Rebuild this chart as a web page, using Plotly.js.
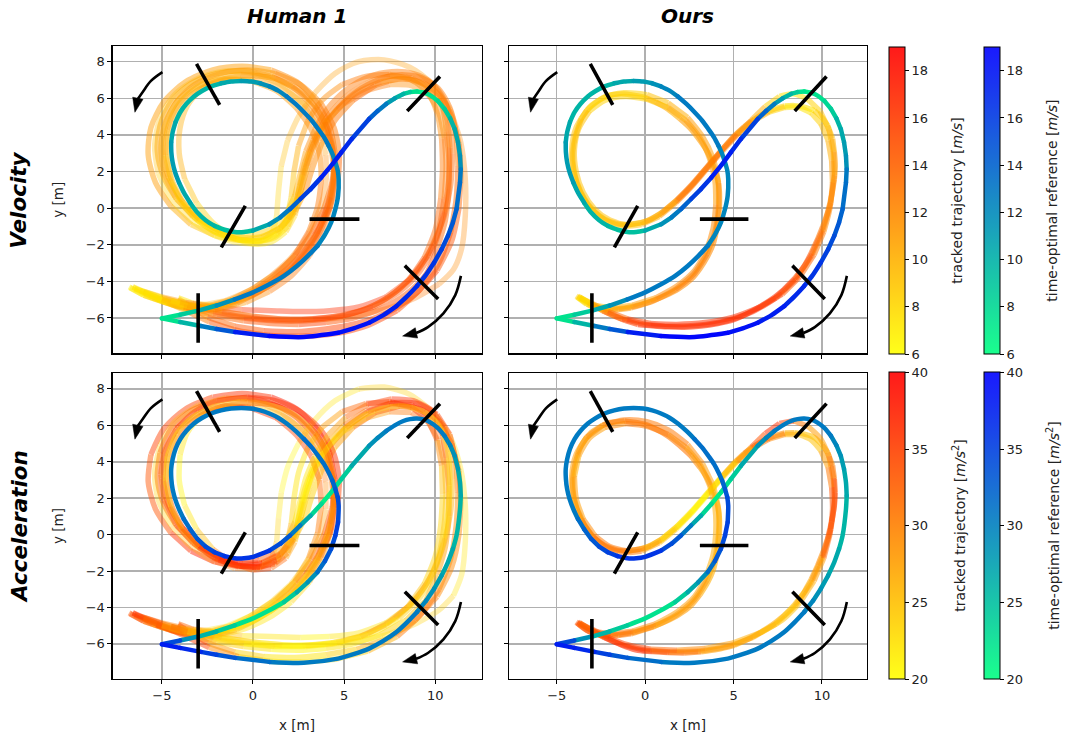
<!DOCTYPE html>
<html><head><meta charset="utf-8">
<script src="https://cdn.plot.ly/plotly-3.0.1.min.js"></script>
<style>html,body{margin:0;padding:0;background:#fff}#chart{width:1065px;height:739px}.js-line{stroke-linejoin:round}</style>
</head><body><div id="chart"></div>
<script>
// ---------------- DATA ----------------
const xTicks = [-5, 0, 5, 10];
const yTicks = [-6, -4, -2, 0, 2, 4, 6, 8];
const velTicks = [6, 8, 10, 12, 14, 16, 18];
const accTicks = [20, 25, 30, 35, 40];
const velRange = [6, 19];
const accRange = [20, 40];
const colTitles = ['Human 1', 'Ours'];
const rowTitles = ['Velocity', 'Acceleration'];
const cbTitles = ['tracked trajectory [<i>m/s</i>]', 'time-optimal reference [<i>m/s</i>]',
                  'tracked trajectory [<i>m/s</i><sup>2</sup>]', 'time-optimal reference [<i>m/s</i><sup>2</sup>]'];

// time-optimal reference
const refX = [-5.0,-4.0,-3.0,-2.0,-1.0,0.0,0.9,1.7,2.41,3.0,3.54,3.95,4.29,4.52,4.67,4.7,4.65,4.52,4.36,4.15,3.9,3.58,3.22,2.8,2.35,1.85,1.38,0.9,0.4,-0.1,-0.65,-1.2,-1.75,-2.3,-2.8,-3.24,-3.65,-3.99,-4.25,-4.41,-4.49,-4.48,-4.41,-4.27,-4.06,-3.8,-3.45,-3.05,-2.6,-2.11,-1.56,-1.0,-0.5,0.0,0.9,1.5,2.03,2.6,3.16,3.75,4.29,4.85,5.42,6.37,6.84,7.31,7.78,8.25,8.62,9.0,9.4,9.75,10.15,10.51,10.82,11.07,11.25,11.36,11.4,11.36,11.17,10.97,10.7,10.35,9.94,9.5,9.0,8.45,7.87,7.15,6.37,5.52,4.67,2.79,0.9,-0.98,-2.0,-2.86,-4.0,-5.0];
const refY = [-6.02,-5.82,-5.6,-5.32,-4.98,-4.6,-4.16,-3.7,-3.16,-2.62,-2.06,-1.45,-0.78,-0.05,0.68,1.59,2.05,2.5,2.96,3.41,3.87,4.32,4.79,5.24,5.68,6.1,6.42,6.65,6.82,6.92,6.95,6.92,6.82,6.65,6.4,6.1,5.7,5.24,4.7,4.14,3.6,3.05,2.5,1.95,1.4,0.86,0.3,-0.24,-0.66,-0.97,-1.18,-1.3,-1.3,-1.22,-0.88,-0.5,-0.05,0.5,1.04,1.68,2.32,3.05,3.78,4.87,5.31,5.69,6.0,6.24,6.34,6.37,6.31,6.15,5.85,5.42,4.9,4.32,3.6,2.86,2.13,1.4,-0.05,-0.78,-1.51,-2.25,-2.97,-3.63,-4.25,-4.82,-5.35,-5.84,-6.26,-6.57,-6.81,-7.04,-6.99,-6.77,-6.6,-6.44,-6.22,-6.02];
const refV = [6.5,8,9.5,11,12.5,13,13,13,13,12.5,12.5,12,12,12,12,12,12,12,12.2,12.5,12.8,13,13,13,12.8,12.5,12.2,12,11.5,11,10.8,10.5,10.2,10,10,10,10,10,10.2,10.5,10.8,11,11,11,10.8,10.5,10.2,10,9.8,9.5,9.2,9,9.2,9.5,11,12,13.5,15,16,17,17.5,17,16.5,15,13.5,12,10.5,9,8,7,7.2,7.5,8,8.5,9.2,10,10.8,11.5,12.2,13,14,14.5,15,15.5,16,16.2,16.5,16.8,17,17.5,18,18.2,18.5,19,18.5,16,13.5,11.5,8.5,6.5];
const refA = [38,31,27,25,23,22,22,23,25,28,30,32,34,35,35,34,33.5,33,32,31,31,31,31,31,30.5,30,30,30,30,30,30,30,30,30,30,30,30,30,30,30,30,30,30,30,30.5,31,32,33,34,35,35.5,36,36,36,35,34,32,28,25,22,21,23,25,28,29,30,30,30,30,30,30,30,30,30,29,28,27.5,27,26.5,26,26,26.5,27,27.5,28,29,30,30,30,30,30,30,30,30,31,32,34,36,37,38];

// Human 1 tracked laps
const h1X = [-6.8,-6.0,-5.0,-4.0,-3.0,-2.0,-1.0,0.0,1.0,2.0,2.9,3.6,4.1,4.4,4.4,4.0,3.3,2.3,1.0,-0.5,-2.0,-3.4,-4.5,-5.1,-5.25,-4.9,-4.2,-3.2,-2.1,-1.0,0.2,1.2,1.9,2.3,2.55,2.85,3.3,4.0,5.0,6.2,7.5,8.7,9.7,10.4,10.6,10.75,10.75,10.55,10.1,9.5,8.4,7.0,5.5,4.0,2.5,1.0,-0.5,-2.0,-3.5,-5.0,-6.0,-6.75];
const h1Y = [-4.3,-4.75,-5.1,-5.35,-5.45,-5.35,-5.05,-4.6,-4.0,-3.2,-2.2,-1.1,0.2,1.6,3.0,4.3,5.5,6.5,7.2,7.5,7.35,6.8,5.8,4.5,3.1,1.7,0.5,-0.5,-1.25,-1.65,-1.8,-1.6,-1.0,0.0,1.2,2.5,3.7,4.9,6.0,6.8,7.2,7.1,6.5,5.5,4.2,2.7,1.0,-0.7,-2.2,-3.6,-4.7,-5.5,-6.0,-6.25,-6.35,-6.3,-6.15,-5.9,-5.55,-5.1,-4.75,-4.35];
const h1V = [6,7,8,9,10,11,12,13,13.5,14,14,14,13.5,13,13,13,12.5,12,11.5,11,11,11,11,11,11,11,10.5,10,9,8,7.5,7.5,8,9,10,11,12,12.5,13,13,13,12.5,12,12,12.5,13,13.5,14,14.5,15,15.5,15,15,15.5,15.5,15,14.5,14,12,9,7.5,6.5];
const h1A = [34,32,28,25,23,22,22,23,25,27,29,31,33,34,34,35,36,37,37,36,36,35,35,34,33,33,34,36,38,38,37,34,28,24,22,22,23,25,28,32,35,36,36,34,32,30,29,28,27,27,24,23,22,21,21,21,22,25,28,31,33,34];

const h2X = [-4.1,-3.3,-2.3,-1.2,0.0,1.2,2.3,3.2,3.9,4.35,4.5,4.2,3.5,2.4,1.0,-0.6,-2.2,-3.7,-4.9,-5.6,-5.75,-5.35,-4.5,-3.4,-2.1,-0.8,0.5,1.5,2.3,2.9,3.3,3.8,4.5,5.5,6.7,8.0,9.2,10.2,10.9,11.3,11.4,11.3,10.9,10.1,8.9,7.4,5.7,4.0,2.3,0.6,-1.0,-2.5,-3.5,-4.1];
const h2Y = [-4.9,-5.2,-5.3,-5.0,-4.4,-3.6,-2.6,-1.4,0.0,1.5,3.0,4.5,5.8,6.9,7.55,7.75,7.55,6.9,5.8,4.4,2.9,1.4,0.1,-0.9,-1.5,-1.75,-1.6,-1.1,-0.2,1.0,2.3,3.6,4.8,5.9,6.7,7.05,6.9,6.2,5.0,3.5,1.8,0.0,-1.8,-3.4,-4.7,-5.7,-6.3,-6.6,-6.75,-6.7,-6.45,-5.95,-5.35,-4.95];
const h2V = [7,8.5,10,11.5,12.5,13.5,14,14.5,14.5,14,13.5,13,12.5,12,11.5,11,11,11,11.5,11.5,11,11,10.5,10,9,8.5,8.5,9.5,10.5,11.5,12,12.5,13,13.5,13.5,13,12.5,12.5,13,13.5,14,14.5,15,15.5,15.5,16,16,16,15.5,15.5,15,13,9.5,7.5];
const h2A = [33,30,27,25,25,27,29,31,33,35,36,37,38,38,37,37,36,35,35,34,33,33,35,37,39,39,37,32,27,24,23,24,27,30,33,36,37,36,34,32,30,29,29,30,31,27,25,23,22,22,24,31,34,34];

const h3X = [-6.5,-5.5,-4.3,-3.0,-1.7,-0.4,0.9,2.1,3.1,3.8,4.25,4.45,4.3,3.75,2.8,1.5,0.0,-1.5,-2.8,-3.6,-4.0,-4.05,-3.75,-3.1,-2.2,-1.1,0.0,1.0,1.8,2.3,2.6,2.9,3.3,4.0,5.0,6.2,7.5,8.7,9.6,10.2,10.5,10.6,10.5,10.2,9.6,8.6,7.3,5.8,4.2,2.6,1.0,-0.6,-2.2,-3.7,-5.0,-6.0,-6.5];
const h3Y = [-4.4,-4.9,-5.3,-5.55,-5.5,-5.15,-4.55,-3.7,-2.6,-1.3,0.1,1.6,3.1,4.5,5.7,6.6,7.0,7.0,6.5,5.6,4.4,3.0,1.6,0.3,-0.8,-1.6,-1.95,-1.85,-1.3,-0.4,0.8,2.2,3.5,4.7,5.7,6.4,6.75,6.7,6.2,5.2,3.9,2.3,0.6,-1.1,-2.6,-3.9,-4.85,-5.4,-5.6,-5.65,-5.6,-5.55,-5.4,-5.15,-4.85,-4.55,-4.4];
const h3V = [6.5,7.5,8.5,9.5,10.5,11.5,12.5,13,13.5,13.5,13,12.5,12,12,11.5,11,10.5,10.5,10.5,10.5,10,10,9.5,9,8.5,7.5,7,7,7.5,8.5,9.5,10.5,11.5,12,12.5,12.5,12.5,12,12,12,12.5,13,13.5,14,14.5,15,16,16.5,17,17,17,16.5,15.5,13,10,7.5,6.5];
const h3A = [33,30,27,25,23,22,22,23,25,27,29,30,31,27,26,25,24,23,22,22,21,21,21,23,28,32,35,34,30,26,23,21,21,22,24,27,30,32,32,30,28,26,25,25,25,24,23,22,21,21,22,23,26,29,31,32,33];

const h4X = [-6.2,-5.2,-4.0,-2.8,-1.5,-0.2,1.0,2.1,3.0,3.65,4.0,4.0,3.6,2.8,1.6,0.1,-1.5,-3.0,-4.3,-5.1,-5.4,-5.2,-4.5,-3.5,-2.3,-1.0,0.2,1.0,1.3,1.4,1.55,1.9,2.5,3.4,4.5,5.8,7.2,8.6,9.8,10.8,11.4,11.65,11.65,11.45,11.0,10.2,9.0,7.5,5.8,4.0,2.2,0.4,-1.4,-3.2,-4.8,-6.2];
const h4Y = [-4.5,-4.95,-5.25,-5.3,-5.05,-4.5,-3.7,-2.7,-1.5,-0.1,1.4,2.9,4.3,5.6,6.7,7.35,7.5,7.1,6.2,4.9,3.4,1.9,0.5,-0.6,-1.4,-1.85,-1.9,-1.4,-0.4,0.9,2.3,3.7,5.0,6.3,7.35,8.0,8.1,7.7,6.8,5.4,3.6,1.6,-0.4,-2.2,-3.35,-4.15,-4.85,-5.45,-5.85,-6.05,-6.1,-5.95,-5.7,-5.35,-4.95,-4.5];
const h4V = [6.5,7.5,8.5,9.5,10.5,11,11.5,12,12,12,12,11.5,11,10.5,10,9.5,9.5,9.5,9.5,9.5,9.5,9,8.5,8,7.5,7,7,7.5,8,8.5,9,9.5,10,10.5,11,11,11,11,11,11.5,12,12,12,12,12,12.5,13,13.5,14,14,14,13.5,12.5,11,8.5,6.5];
const h4A = [30,27,24,22,21,21,22,24,26,28,29,30,30,30,29,28,27,26,25,24,23,23,24,26,28,30,30,27,24,22,21,21,21,22,22,23,23,23,23,22,22,22,22,22,23,24,24,23,22,21,21,22,24,26,28,30];

const h5X = [-5.3,-4.4,-3.3,-2.1,-0.9,0.3,1.5,2.6,3.5,4.2,4.65,4.75,4.45,3.75,2.6,1.2,-0.3,-1.8,-3.2,-4.2,-4.8,-4.95,-4.65,-3.95,-2.95,-1.8,-0.6,0.5,1.5,2.2,2.65,3.0,3.45,4.15,5.1,6.3,7.7,9.0,10.1,10.8,11.15,11.25,11.15,10.85,10.2,9.2,7.9,6.3,4.5,2.7,0.9,-0.8,-2.4,-3.7,-4.7,-5.3];
const h5Y = [-4.95,-5.3,-5.55,-5.55,-5.2,-4.6,-3.75,-2.7,-1.4,0.0,1.5,3.0,4.4,5.7,6.75,7.35,7.55,7.35,6.75,5.8,4.5,3.1,1.7,0.45,-0.6,-1.3,-1.6,-1.55,-1.05,-0.15,1.0,2.3,3.6,4.8,5.9,6.75,7.25,7.2,6.6,5.5,4.0,2.3,0.5,-1.3,-3.0,-4.4,-5.6,-6.4,-6.85,-7.0,-6.95,-6.7,-6.2,-5.6,-5.15,-4.95];
const h5V = [7,8,9.5,10.5,11.5,12.5,13.5,14,14.5,14.5,14,13.5,13,12.5,12,11.5,11,11,11,11,11,11,10.5,10,9.5,8.5,8,8,8.5,9.5,10.5,11.5,12,12.5,13,13,13,12.5,12.5,12.5,13,13.5,14,14.5,15,15,15.5,16,16,16,15.5,15,14,11,8.5,7];
const h5A = [35,33,30,27,25,24,25,27,30,33,35,36,37,37,37,36,36,35,35,34,34,34,35,36,37,38,38,36,32,27,24,23,24,27,30,33,36,37,36,34,32,30,29,29,30,32,28,25,23,22,22,25,34,35,35,35];

const h6X = [-6.6,-5.7,-4.6,-3.4,-2.2,-1.0,0.2,1.3,2.3,3.05,3.55,3.75,3.65,3.2,2.4,1.3,-0.1,-1.6,-3.0,-4.1,-4.8,-5.05,-4.85,-4.25,-3.3,-2.2,-0.9,0.4,1.3,1.85,2.1,2.25,2.5,3.0,3.8,4.9,6.2,7.5,8.7,9.6,10.1,10.35,10.4,10.3,10.0,9.4,8.5,7.3,5.9,4.3,2.7,1.1,-0.5,-2.1,-3.6,-5.0,-6.0,-6.6];
const h6Y = [-4.3,-4.75,-5.15,-5.4,-5.35,-5.0,-4.4,-3.6,-2.55,-1.3,0.1,1.6,3.0,4.3,5.45,6.4,6.95,7.05,6.7,5.9,4.7,3.3,1.9,0.6,-0.45,-1.25,-1.7,-1.8,-1.45,-0.6,0.6,2.0,3.4,4.75,5.9,6.75,7.2,7.3,7.0,6.3,5.2,3.8,2.2,0.5,-1.2,-2.7,-3.95,-4.95,-5.6,-5.95,-6.1,-6.1,-5.95,-5.65,-5.3,-4.9,-4.55,-4.3];
const h6V = [6.5,7.5,8.5,9.5,10.5,11.5,12.5,13,13.5,13.5,13,12.5,12,12,11.5,11,10.5,10.5,10.5,10.5,10.5,10.5,10,9.5,9,8.5,8,7.5,7.5,8,9,10,11,11.5,12,12.5,12.5,12.5,12,12,12,12.5,13,13.5,14,14.5,15,15,15,15.5,15.5,15,15.5,14,11.5,9,7.5,6.5];
const h6A = [36,34,31,28,25,23,23,24,26,28,30,31,32,34,35,36,36,35,34,33,32,31,31,32,34,36,37,36,33,29,25,23,22,23,26,30,34,36,36,35,33,25,24,23,23,24,25,31,27,24,22,21,21,23,27,35,36,36];

const h7X = [-6.0,-5.0,-3.9,-2.7,-1.5,-0.3,0.9,2.0,2.95,3.7,4.2,4.45,4.45,4.15,3.5,2.5,1.2,-0.3,-1.8,-3.1,-4.1,-4.6,-4.7,-4.45,-3.85,-2.95,-1.9,-0.8,0.3,1.2,1.85,2.3,2.6,2.9,3.4,4.1,5.1,6.3,7.6,8.8,9.8,10.5,10.85,10.95,10.85,10.5,9.9,9.0,7.8,6.3,4.6,2.9,1.2,-0.5,-2.2,-3.8,-5.0,-6.0];
const h7Y = [-4.6,-5.0,-5.3,-5.4,-5.25,-4.85,-4.25,-3.45,-2.45,-1.25,0.05,1.45,2.9,4.25,5.5,6.5,7.1,7.25,7.0,6.4,5.45,4.25,2.9,1.55,0.35,-0.6,-1.2,-1.45,-1.4,-1.0,-0.3,0.7,1.9,3.1,4.3,5.45,6.45,7.15,7.45,7.35,6.85,5.9,4.6,3.0,1.3,-0.4,-2.0,-3.45,-4.6,-5.45,-5.95,-6.15,-6.15,-6.0,-5.75,-5.4,-5.0,-4.6];
const h7V = [7,8,9,10,11,12,13,13.5,14,14,13.5,13,13,12.5,12.5,12,11.5,11,11,11,11,10.5,10.5,10,9.5,9,8.5,8,8,8.5,9,10,11,12,12.5,13,13,13,13,12.5,12.5,12.5,13,13.5,14,14,14.5,14.5,15,15,15,15,15,14.5,13,10.5,8.5,7];
const h7A = [33,30,27,24,22,22,23,25,28,31,33,35,36,37,37,38,38,37,37,36,36,35,35,35,36,37,38,38,36,31,26,23,22,22,23,26,30,34,37,37,35,32,29,27,26,26,26,27,26,24,22,21,21,22,24,28,31,33];

const h8X = [-4.5,-3.6,-2.5,-1.3,-0.1,1.1,2.2,3.1,3.8,4.25,4.45,4.35,3.95,3.2,2.15,0.8,-0.7,-2.1,-3.3,-4.2,-4.7,-4.8,-4.5,-3.9,-3.0,-1.9,-0.7,0.4,1.3,1.95,2.4,2.75,3.15,3.75,4.6,5.7,7.0,8.3,9.4,10.2,10.65,10.8,10.75,10.5,10.0,9.2,8.0,6.6,5.0,3.3,1.6,-0.1,-1.7,-3.1,-4.0,-4.5];
const h8Y = [-5.05,-5.35,-5.45,-5.25,-4.8,-4.1,-3.2,-2.1,-0.8,0.6,2.0,3.4,4.7,5.8,6.65,7.15,7.3,7.05,6.45,5.5,4.3,2.9,1.5,0.3,-0.7,-1.4,-1.75,-1.75,-1.35,-0.6,0.5,1.8,3.1,4.3,5.4,6.3,6.9,7.05,6.75,6.0,4.8,3.3,1.6,-0.2,-1.9,-3.4,-4.6,-5.4,-5.85,-6.05,-6.05,-5.9,-5.65,-5.35,-5.15,-5.05];
const h8V = [7.5,9,10,11,12,13,13.5,14,14,13.5,13,12.5,12.5,12,11.5,11,10.5,10,10,10,10,9.5,9,8.5,8,7.5,7,7,7.5,8.5,9.5,10.5,11.5,12,12.5,12.5,12.5,12,12,12.5,13,13.5,14,14.5,15,15,15,15.5,15.5,15.5,15,14.5,13,11,9,7.5];
const h8A = [32,28,25,23,22,22,23,24,25,26,26,26,26,26,25,25,24,23,22,22,21,21,22,25,29,34,37,36,31,26,23,21,21,22,23,24,24,23,23,22,22,22,22,23,23,23,23,22,21,21,21,22,24,27,30,32];

// Ours tracked laps
const o1X = [-3.85,-3.3,-2.5,-1.5,-0.6,0.3,1.09,1.9,2.6,3.1,3.54,3.85,4.01,4.15,4.2,4.2,4.1,3.85,3.54,3.1,2.6,1.95,1.28,0.6,-0.04,-1.17,-2.11,-3.05,-3.6,-3.95,-4.09,-4.05,-3.85,-3.43,-2.9,-2.3,-1.6,-0.98,-0.3,0.34,1.0,1.66,2.25,2.79,3.35,3.92,4.5,5.05,5.6,6.18,6.75,7.31,7.9,8.44,9.0,9.57,10.0,10.32,10.6,10.7,10.75,10.7,10.55,10.32,10.05,9.76,9.4,9.0,8.45,7.87,7.2,6.55,5.8,5.05,4.1,3.16,2.2,1.28,0.4,-0.41,-1.1,-1.73,-2.3,-2.86,-3.3,-3.7];
const o1Y = [-4.85,-5.25,-5.5,-5.5,-5.35,-5.1,-4.8,-4.4,-3.89,-3.3,-2.61,-1.95,-1.33,-0.6,0.13,0.9,1.59,2.35,3.05,3.7,4.32,4.9,5.42,5.8,6.06,6.24,6.15,5.6,4.9,3.9,3.05,2.2,1.4,0.5,-0.15,-0.6,-0.85,-0.9,-0.8,-0.6,-0.2,0.31,0.85,1.41,2.05,2.68,3.35,3.96,4.45,4.87,5.2,5.42,5.58,5.6,5.52,5.33,4.95,4.51,3.8,3.05,2.3,1.59,0.7,-0.24,-1.0,-1.7,-2.45,-3.16,-3.85,-4.43,-4.95,-5.35,-5.75,-6.08,-6.3,-6.44,-6.5,-6.48,-6.42,-6.35,-6.15,-5.9,-5.65,-5.35,-5.1,-4.85];
const o1V = [7,8,9.5,10.5,11,11.5,12,12,12,12,12,12,12,11.5,11.5,11,11,11,11,11,11,10.5,10,9.5,9,8.5,8.5,8.5,9,9,9,9,9,9,9,9,9,9,9.5,10,11,12,12.5,13,13,13,12.5,12,11.5,11,10,9,8,7.5,7.5,8,8.5,9,10,10.5,11,11.5,12,12,12.5,13,14,15,15.5,16,16.5,16.5,17,17,17,17,17,17,16.5,16,15,14,12,10,8.5,7];
const o1A = [33,35,33,31,30,29,28,28,28,27,27,27,26,26,26,26,26,27,28,29,30,30,30,30,30,30,29,28,28,28,28,28,29,30,31,31,31,30,28,26,24,22,21,21,22,23,25,27,29,31,32,31,28,26,25,25,26,28,30,32,34,35,34,32,30,29,27,25,25,26,26,27,27,27,28,29,31,33,35,37,37,36,34,31,30,31];

const o2X = [-3.9,-3.0,-2.0,-0.8,0.5,1.7,2.75,3.5,3.95,4.15,4.15,3.85,3.25,2.4,1.3,0.1,-1.2,-2.4,-3.3,-3.9,-4.15,-4.05,-3.65,-3.0,-2.2,-1.2,-0.2,0.8,1.75,2.6,3.45,4.3,5.15,6.0,6.8,7.6,8.4,9.2,9.9,10.4,10.65,10.7,10.5,10.05,9.4,8.5,7.4,6.1,4.6,3.0,1.4,0.0,-1.3,-2.4,-3.2,-3.8];
const o2Y = [-4.8,-5.4,-5.6,-5.45,-5.05,-4.45,-3.6,-2.5,-1.3,0.0,1.4,2.7,3.9,4.95,5.75,6.2,6.3,6.0,5.35,4.4,3.2,2.0,0.85,-0.1,-0.7,-0.98,-0.9,-0.45,0.3,1.15,2.1,3.05,3.95,4.8,5.55,6.1,6.25,5.95,5.3,4.3,3.1,1.8,0.3,-1.2,-2.6,-3.9,-4.9,-5.65,-6.15,-6.4,-6.45,-6.35,-6.05,-5.6,-5.15,-4.8];
const o2V = [7,9,10.5,11.5,12,12.5,12.5,12.5,12,12,11.5,11.5,11.5,11,10,9,8.5,8.5,9,9,9,9,9,9,9,9,9.5,10.5,12,13,13.5,13,12.5,11.5,9.5,7.5,7,7.5,8.5,9.5,10.5,11.5,12,13,14,15,16,16.5,17,17,17,16.5,15,12.5,9.5,7.5];
const o2A = [34,34,32,30,29,28,28,27,27,26,26,27,29,30,31,31,31,30,29,28,28,28,29,30,31,31,29,26,23,21,21,22,26,31,36,37,33,28,27,29,33,35,33,30,27,25,26,27,28,29,32,35,37,35,33,33];

const o3X = [-3.75,-2.9,-1.9,-0.7,0.6,1.8,2.8,3.45,3.85,4.0,3.95,3.65,3.1,2.3,1.3,0.1,-1.1,-2.25,-3.15,-3.75,-4.0,-3.9,-3.5,-2.85,-2.0,-1.0,0.0,0.9,1.8,2.65,3.5,4.35,5.2,6.1,7.0,7.9,8.7,9.4,9.95,10.35,10.55,10.6,10.45,10.1,9.55,8.75,7.75,6.5,5.0,3.4,1.8,0.3,-1.0,-2.1,-3.0,-3.7];
const o3Y = [-4.9,-5.3,-5.45,-5.3,-4.9,-4.25,-3.4,-2.3,-1.1,0.2,1.5,2.7,3.85,4.8,5.5,5.95,6.1,5.9,5.3,4.35,3.2,2.0,0.85,-0.05,-0.65,-0.9,-0.75,-0.3,0.45,1.3,2.25,3.2,4.05,4.75,5.25,5.5,5.5,5.2,4.6,3.7,2.6,1.4,0.0,-1.3,-2.55,-3.75,-4.7,-5.4,-5.95,-6.25,-6.35,-6.3,-6.05,-5.65,-5.2,-4.9];
const o3V = [7,8.5,10,11,11.5,12,12,12,12,11.5,11,11,11,10.5,10,9,8.5,8.5,9,9,9,9,9,9,9,9,9.5,10.5,12,13,13.5,13,12,11,9.5,8,7.5,8,8.5,9.5,10.5,11.5,12,12.5,13.5,14.5,15.5,16.5,17,17,17,16.5,15.5,13,10,7.5];
const o3A = [32,33,31,30,29,28,28,27,27,26,26,27,28,29,30,30,30,29,28,27,27,28,29,30,31,30,28,25,22,21,21,23,26,30,31,28,26,25,26,29,32,34,33,30,27,25,25,26,27,28,31,34,36,35,32,32];

// gates and direction arrows (data coordinates)
const gateX = [[-3.05,-1.88],[-0.47,-1.69],[3.2,5.74],[8.53,10.19],[8.4,10.09],[-3.01,-3.01]];
const gateY = [[7.79,5.73],[0.04,-2.06],[-0.6,-0.6],[5.38,7.12],[-3.21,-4.89],[-4.74,-7.26]];
const arrowShaftX = [[-4.97,-5.6,-6.05,-6.33],[11.41,11.1,10.45,9.6,8.95]];
const arrowShaftY = [[7.43,6.95,6.35,5.95],[-3.7,-4.75,-5.75,-6.5,-6.82]];
const arrowTipX = [-6.48, 8.21];
const arrowTipY = [5.24, -6.99];

// ---------------- DRAWING ----------------
const FONT = 'DejaVu Sans, Verdana, sans-serif';
const autumnR = t => [255, Math.round(255 * (1 - t)), 0];
const winterR = t => [0, Math.round(255 * (1 - t)), Math.round(255 * (0.5 + 0.5 * t))];
const rgba = (c, a) => `rgba(${c[0]},${c[1]},${c[2]},${a})`;
const light = (c, w) => c.map(v => Math.round(v + (255 - v) * w));
const axName = (p, k) => p + (k === 1 ? '' : k);

const traces = [];
// colour-graded line: consecutive segments falling in the same colour bin are joined into one smoothed run
function addPath(xs, ys, vals, rng, cmap, alpha, width, k, NB) {
  const n = xs.length, segBin = [];
  for (let i = 0; i < n - 1; i++) {
    let t = ((vals[i] + vals[i + 1]) / 2 - rng[0]) / (rng[1] - rng[0]);
    t = Math.max(0, Math.min(1, t));
    segBin.push(Math.min(NB - 1, Math.floor(t * NB)));
  }
  const bins = {};
  let i = 0;
  while (i < n - 1) {
    let j = i;
    while (j + 1 < n - 1 && segBin[j + 1] === segBin[i]) j++;
    const b = segBin[i];
    if (!bins[b]) bins[b] = { x: [], y: [] };
    for (let q = i; q <= j + 1; q++) { bins[b].x.push(xs[q]); bins[b].y.push(ys[q]); }
    bins[b].x.push(null); bins[b].y.push(null);
    i = j + 1;
  }
  Object.keys(bins).forEach(b => {
    traces.push({
      type: 'scatter', mode: 'lines', x: bins[b].x, y: bins[b].y,
      xaxis: axName('x', k), yaxis: axName('y', k),
      line: { color: rgba(cmap((+b + 0.5) / NB), alpha), width: width, shape: 'spline', smoothing: 0.8 },
      hoverinfo: 'skip', showlegend: false
    });
  });
}

const humanLaps = [
  [h1X, h1Y, h1V, h1A, 0.47], [h2X, h2Y, h2V, h2A, 0.47], [h3X, h3Y, h3V, h3A, 0.4], [h4X, h4Y, h4V, h4A, 0.32],
  [h5X, h5Y, h5V, h5A, 0.47], [h6X, h6Y, h6V, h6A, 0.44], [h7X, h7Y, h7V, h7A, 0.44], [h8X, h8Y, h8V, h8A, 0.42]
];
const oursLaps = [[o1X, o1Y, o1V, o1A, 0.58], [o2X, o2Y, o2V, o2A, 0.52], [o3X, o3Y, o3V, o3A, 0.52]];

const panels = [
  { k: 1, laps: humanLaps, acc: false }, { k: 2, laps: oursLaps, acc: false },
  { k: 3, laps: humanLaps, acc: true }, { k: 4, laps: oursLaps, acc: true }
];
panels.forEach(p => {
  const rng = p.acc ? accRange : velRange;
  const xa = axName('x', p.k), ya = axName('y', p.k);
  p.laps.forEach(l => addPath(l[0], l[1], p.acc ? l[3] : l[2], rng, autumnR, l[4], 5.5, p.k, 14));
  addPath(refX, refY, p.acc ? refA : refV, rng, winterR, 1, 4.5, p.k, 22);
  gateX.forEach((gx, i) => traces.push({
    type: 'scatter', mode: 'lines', x: gx, y: gateY[i], xaxis: xa, yaxis: ya,
    line: { color: '#000', width: 3.6 }, hoverinfo: 'skip', showlegend: false
  }));
  arrowShaftX.forEach((sx, i) => {
    traces.push({
      type: 'scatter', mode: 'lines', x: sx, y: arrowShaftY[i], xaxis: xa, yaxis: ya,
      line: { color: '#000', width: 2.6, shape: 'spline' }, hoverinfo: 'skip', showlegend: false
    });
    // filled arrow head, oriented from the last shaft point to the tip
    const m = sx.length - 1;
    let dx = arrowTipX[i] - sx[m], dy = arrowTipY[i] - arrowShaftY[i][m];
    const d = Math.hypot(dx, dy); dx /= d; dy /= d;
    const L = 0.78, W = 0.58;
    const bx = arrowTipX[i] - L * dx, by = arrowTipY[i] - L * dy;
    traces.push({
      type: 'scatter', mode: 'lines', xaxis: xa, yaxis: ya, fill: 'toself', fillcolor: '#000',
      x: [arrowTipX[i], bx - dy * W / 2, bx + dy * W / 2, arrowTipX[i]],
      y: [arrowTipY[i], by + dx * W / 2, by - dx * W / 2, arrowTipY[i]],
      line: { color: '#000', width: 0.5 }, hoverinfo: 'skip', showlegend: false
    });
  });
});

// colorbars
function cbTrace(cmap, rng, ticks, x, y) {
  const cs = [];
  for (let i = 0; i <= 10; i++) cs.push([i / 10, rgba(light(cmap(i / 10), 0.1), 1)]);
  return {
    type: 'scatter', mode: 'markers', x: [100], y: [100], xaxis: 'x', yaxis: 'y',
    hoverinfo: 'skip', showlegend: false,
    marker: {
      size: 1, opacity: 0, color: [rng[0]], cmin: rng[0], cmax: rng[1], colorscale: cs, showscale: true,
      colorbar: {
        x: x, xanchor: 'left', y: y, yanchor: 'middle', len: 0.415, lenmode: 'fraction',
        thickness: 16, thicknessmode: 'pixels', xpad: 0, ypad: 0,
        outlinecolor: '#000', outlinewidth: 1, ticks: 'outside', ticklen: 4, tickwidth: 1, tickcolor: '#000',
        tickvals: ticks, tickfont: { family: FONT, size: 13, color: '#222' }
      }
    }
  };
}
traces.push(cbTrace(autumnR, velRange, velTicks, 0.8347, 0.7285));
traces.push(cbTrace(winterR, velRange, velTicks, 0.9242, 0.7285));
traces.push(cbTrace(autumnR, accRange, accTicks, 0.8347, 0.2885));
traces.push(cbTrace(winterR, accRange, accTicks, 0.9242, 0.2885));

// texts
const annotations = [];
const cbTitleX = [0.8986, 0.9878, 0.9005, 0.9887];
const cbTitleY = [0.7285, 0.7285, 0.2885, 0.2885];
cbTitles.forEach((t, i) => annotations.push({
  text: t, x: cbTitleX[i], y: cbTitleY[i], xref: 'paper', yref: 'paper', textangle: -90, showarrow: false,
  font: { family: FONT, size: 14, color: '#222' }, xanchor: 'center', yanchor: 'middle'
}));
const colX = [0.2789, 0.646];
colTitles.forEach((t, i) => annotations.push({
  text: '<b><i>' + t + '</i></b>', x: colX[i], y: 0.9783, xref: 'paper', yref: 'paper',
  showarrow: false, font: { family: FONT, size: 20, color: '#000' }, xanchor: 'center', yanchor: 'middle'
}));
const rowY = [0.7298, 0.2882];
rowTitles.forEach((t, i) => annotations.push({
  text: '<b><i>' + t + '</i></b>', x: 0.0178, y: rowY[i], xref: 'paper', yref: 'paper', textangle: -90,
  showarrow: false, font: { family: FONT, size: 21.5, color: '#000' }, xanchor: 'center', yanchor: 'middle'
}));
rowY.forEach(y => annotations.push({
  text: 'y [m]', x: 0.0545, y: y, xref: 'paper', yref: 'paper', textangle: -90, showarrow: false,
  font: { family: FONT, size: 13.5, color: '#222' }, xanchor: 'center', yanchor: 'middle'
}));
colX.forEach(x => annotations.push({
  text: 'x [m]', x: x, y: 0.0189, xref: 'paper', yref: 'paper', showarrow: false,
  font: { family: FONT, size: 13.5, color: '#222' }, xanchor: 'center', yanchor: 'middle'
}));

function axis(dom, anchor, labels, range, ticks) {
  return {
    domain: dom, anchor: anchor, range: range, tickvals: ticks, showticklabels: labels,
    ticks: 'outside', ticklen: 4, tickwidth: 1, tickcolor: '#000', showgrid: true, gridcolor: '#b0b0b0', gridwidth: 1.5,
    zeroline: false, showline: true, linecolor: '#000', linewidth: 1.2, mirror: true,
    tickfont: { family: FONT, size: 13, color: '#222' }
  };
}
const xr = [-7.7, 12.55], yr = [-7.93, 8.86];
const dL = [0.1058, 0.4523], dR = [0.4779, 0.8141], dT = [0.5219, 0.9378], dB = [0.0812, 0.4949];
const layout = {
  width: 1065, height: 739, margin: { l: 0, r: 0, t: 0, b: 0 },
  paper_bgcolor: '#fff', plot_bgcolor: '#fff', showlegend: false,
  font: { family: FONT, size: 13, color: '#222' },
  xaxis: axis(dL, 'y', false, xr, xTicks), yaxis: axis(dT, 'x', true, yr, yTicks),
  xaxis2: axis(dR, 'y2', false, xr, xTicks), yaxis2: axis(dT, 'x2', false, yr, yTicks),
  xaxis3: axis(dL, 'y3', true, xr, xTicks), yaxis3: axis(dB, 'x3', true, yr, yTicks),
  xaxis4: axis(dR, 'y4', true, xr, xTicks), yaxis4: axis(dB, 'x4', false, yr, yTicks),
  annotations: annotations
};
Plotly.newPlot('chart', traces, layout, { displayModeBar: false, staticPlot: true }).then(() => {
  document.querySelectorAll('path.js-line').forEach(p => {
    const w = parseFloat(p.style.strokeWidth);
    if (Math.abs(w - 4.5) < 0.01) p.style.strokeLinecap = 'round';
    else if (Math.abs(w - 3.6) < 0.01) p.style.strokeLinecap = 'square';
  });
});
</script></body></html>
